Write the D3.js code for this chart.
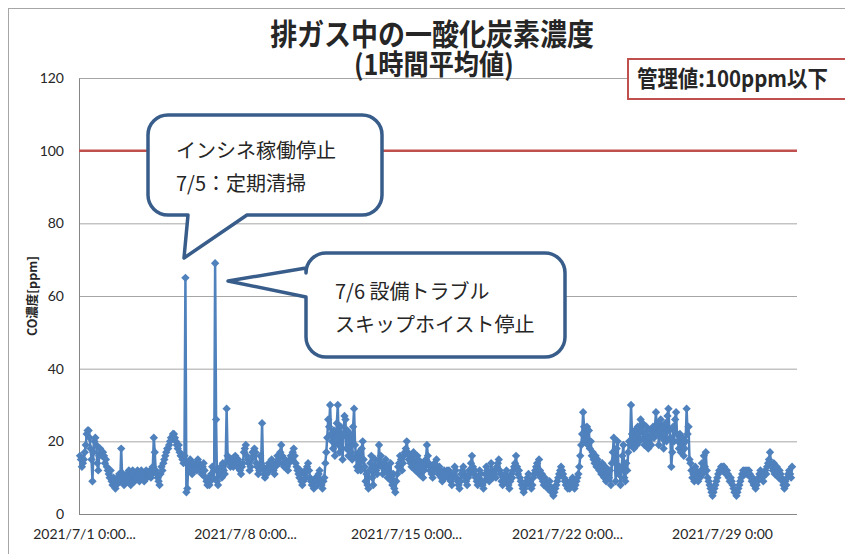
<!DOCTYPE html>
<html>
<head>
<meta charset="utf-8">
<script src="https://cdn.jsdelivr.net/npm/d3@7/dist/d3.min.js"></script>
<style>
  body { margin: 0; background: #fff; }
  svg { display: block; }
  text { fill: #262626; }
</style>
</head>
<body>
<svg id="chart" width="845" height="554"></svg>
<script>
// hourly CO (ppm), one row per day, 24 values each (0:00 .. 23:00)
var coWeek1 = [ // 7/1 - 7/7
  [16,15,13,14,15,17,19,22,23,23,21,18,15,9,17,20,21,19,14,12,16,18,17,16],
  [17,16,14,15,13,12,11,10,12,9,8,10,9,7,8,10,9,11,9,18,10,11,8,9],
  [10,11,9,12,10,8,11,12,10,9,11,10,12,11,9,10,12,11,10,9,11,12,10,11],
  [11,12,10,11,13,21,17,12,11,10,9,8,11,13,12,14,15,16,17,18,18,19,20,21],
  [21,22,22,21,20,19,18,19,17,16,16,15,14,16,65,6,7,14,12,15,13,11,14,12],
  [13,14,12,15,14,13,12,11,13,14,12,10,9,8,10,8,9,11,13,10,12,69,26,9],
  [8,12,11,13,10,14,12,11,14,29,16,15,14,13,15,14,13,15,16,14,13,15,14,12]
];
var coWeek2 = [ // 7/8 - 7/14
  [11,13,14,17,18,19,16,15,14,12,13,15,17,16,18,17,14,13,11,12,16,14,25,13],
  [11,10,12,11,13,14,12,13,15,14,12,11,13,14,16,15,14,17,19,16,14,13,15,14],
  [13,12,14,15,16,15,17,18,16,14,13,12,11,10,12,9,8,9,11,12,10,13,14,12],
  [10,9,8,9,7,8,10,9,8,11,12,9,8,7,9,10,14,17,21,26,24,30,22,20],
  [18,23,16,20,25,30,19,17,24,21,15,22,27,26,18,23,16,20,22,17,15,24,29,19],
  [16,13,12,17,14,12,18,20,15,13,9,11,8,7,12,14,16,10,8,13,15,12,11,13],
  [19,14,16,13,11,14,12,15,13,10,12,11,14,9,8,11,7,6,9,11,13,14,16,15]
];
var coWeek3 = [ // 7/15 - 7/21
  [12,14,16,17,18,20,17,15,16,14,13,15,17,14,12,13,16,15,11,13,12,14,10,12],
  [13,15,19,16,14,12,13,11,10,12,14,13,15,12,11,13,12,10,9,11,12,10,11,12],
  [10,12,11,9,8,10,11,13,12,10,9,8,7,9,11,12,13,11,10,9,8,10,12,11],
  [14,16,13,11,12,10,9,8,10,12,11,9,8,7,9,11,13,12,10,9,11,14,12,10],
  [11,12,10,13,14,15,12,11,9,8,10,9,11,12,10,8,7,9,11,10,12,13,14,16],
  [13,11,12,10,9,8,7,6,7,8,9,10,11,9,8,7,8,10,11,12,13,14,11,15],
  [12,10,11,9,8,10,9,8,7,8,9,7,6,7,5,6,7,8,9,10,11,12,13,12]
];
var coWeek4 = [ // 7/22 - 7/28
  [11,10,9,8,9,7,8,7,9,8,10,9,7,8,9,10,11,13,16,19,22,28,24,20],
  [21,24,19,23,18,20,16,17,15,14,16,13,15,14,12,13,11,14,12,10,13,9,11,12],
  [10,12,8,14,17,21,15,9,18,20,11,13,8,12,16,19,10,9,14,12,17,20,19,30],
  [22,20,18,23,21,19,24,22,20,26,23,25,21,19,22,24,20,18,21,23,19,22,24,21],
  [24,28,22,25,19,23,26,21,24,18,22,25,20,27,29,23,21,13,17,24,20,26,28,22],
  [20,18,22,17,19,21,16,18,20,29,22,24,15,14,12,10,11,9,13,12,10,9,11,10],
  [12,14,11,16,13,17,12,10,9,8,7,6,5,6,7,8,9,10,11,12,12,13,12,13]
];
var coWeek5 = [ // 7/29 - 7/31
  [13,12,11,12,11,10,9,10,9,8,7,6,6,5,6,7,8,9,10,11,12,11,12,11],
  [12,11,12,11,10,9,10,8,9,7,8,9,10,11,12,11,10,9,11,12,11,13,14,15],
  [17,14,13,12,14,11,12,13,11,10,12,11,10,9,8,7,9,8,10,11,12,11,10,13]
];

var limitValue = 100;
var yTicks = [0, 20, 40, 60, 80, 100, 120];
var xTickDates = [new Date(2021,6,1), new Date(2021,6,8), new Date(2021,6,15), new Date(2021,6,22), new Date(2021,6,29)];
var xTickLabels = ["2021/7/1 0:00...", "2021/7/8 0:00...", "2021/7/15 0:00...", "2021/7/22 0:00...", "2021/7/29 0:00"];

var titleLines = ["排ガス中の一酸化炭素濃度", "(1時間平均値)"];
var limitLabel = "管理値:100ppm以下";
var yAxisTitle = "CO濃度[ppm]";
var note1 = ["インシネ稼働停止", "7/5：定期清掃"];
var note2 = ["7/6 設備トラブル", "スキップホイスト停止"];

// build hourly records
var days = coWeek1.concat(coWeek2, coWeek3, coWeek4, coWeek5);
var data = [];
days.forEach(function(row, d) {
  row.forEach(function(v, h) {
    data.push({ t: new Date(2021, 6, 1 + d, h), v: v });
  });
});

var svg = d3.select("#chart");
var plotL = 79, plotR = 797, plotT = 78, plotB = 514;
var jp = "'Noto Sans CJK JP', sans-serif";
var num = "Lato, 'Liberation Sans', sans-serif";

var x = d3.scaleTime()
  .domain([new Date(2021,6,1), new Date(2021,7,1)])
  .range([80, 793]);
var y = d3.scaleLinear().domain([0, 120]).range([plotB, plotT]);

// outer chart frame
svg.append("rect").attr("x", 8.5).attr("y", 8.5).attr("width", 900).attr("height", 600)
  .attr("fill", "none").attr("stroke", "#a6a6a6").attr("stroke-width", 1);

// gridlines
var grid = svg.append("g").attr("transform", "translate(" + plotL + ",0)")
  .call(d3.axisLeft(y).tickValues(yTicks).tickSize(-(plotR - plotL)).tickFormat(""));
grid.select(".domain").remove();
grid.selectAll("line").attr("stroke", "#a6a6a6").attr("stroke-width", 1);

// y axis
var yAxis = svg.append("g").attr("transform", "translate(" + plotL + ",0)")
  .call(d3.axisLeft(y).tickValues(yTicks).tickSize(0).tickPadding(15));
yAxis.select(".domain").attr("stroke", "#868686");
yAxis.selectAll("text").attr("font-family", num).attr("font-size", 14).attr("fill", "#262626");

// x axis
var xAxis = svg.append("g").attr("transform", "translate(0," + plotB + ")")
  .call(d3.axisBottom(x).tickValues(xTickDates).tickSize(0).tickPadding(15)
    .tickFormat(function(d, i) { return xTickLabels[i]; }));
xAxis.select(".domain").attr("d", "M" + plotL + ",0.5H" + plotR).attr("stroke", "#868686");
xAxis.selectAll("text").attr("font-family", num).attr("font-size", 14).attr("fill", "#262626")
  .attr("dx", function(d, i) { return i < 4 ? 4 : -2; });

// limit line
svg.append("line")
  .attr("x1", plotL).attr("x2", plotR)
  .attr("y1", y(limitValue)).attr("y2", y(limitValue))
  .attr("stroke", "#c0504d").attr("stroke-width", 2.5);

// series
var line = d3.line().x(function(d) { return x(d.t); }).y(function(d) { return y(d.v); });
svg.append("path").datum(data).attr("d", line)
  .attr("fill", "none").attr("stroke", "#4f81bd").attr("stroke-width", 2.5)
  .attr("stroke-linejoin", "round");
svg.append("g").selectAll("path").data(data).enter().append("path")
  .attr("d", "M0,-4.2L4.2,0L0,4.2L-4.2,0Z")
  .attr("transform", function(d) { return "translate(" + x(d.t) + "," + y(d.v) + ")"; })
  .attr("fill", "#4f81bd");

// title (two lines in one text)
var title = svg.append("text").attr("transform", "translate(432,0) scale(0.9,1)")
  .attr("text-anchor", "middle").attr("font-family", jp).attr("font-weight", "bold");
title.append("tspan").attr("x", 0).attr("y", 45).attr("font-size", 30).text(titleLines[0]);
title.append("tspan").attr("x", 2).attr("y", 75).attr("font-size", 28).text(titleLines[1]);

svg.append("text")
  .attr("transform", "translate(37,296) rotate(-90)")
  .attr("text-anchor", "middle").attr("font-family", jp).attr("font-weight", "bold")
  .attr("font-size", 12.5).text(yAxisTitle);

// limit label box
svg.append("rect").attr("x", 628).attr("y", 59).attr("width", 230).attr("height", 40)
  .attr("fill", "#fff").attr("stroke", "#c0504d").attr("stroke-width", 2);
svg.append("text").attr("transform", "translate(637,87) scale(0.95,1.05)")
  .attr("font-family", jp).attr("font-weight", "bold").attr("font-size", 21.5).text(limitLabel);

// callouts
function callout(pathD, lines, tx, ty, lh) {
  svg.append("path").attr("d", pathD)
    .attr("fill", "#fff").attr("stroke", "#385d8a").attr("stroke-width", 3.5)
    .attr("stroke-linejoin", "round");
  lines.forEach(function(s, i) {
    svg.append("text").attr("x", tx).attr("y", ty + i * lh)
      .attr("font-family", jp).attr("font-size", 20).text(s);
  });
}
var r = 20;
// box 1: 148..382 x 115..215, pointer down to (184,258)
callout(
  "M" + (148 + r) + ",115H" + (382 - r) + "A" + r + "," + r + " 0 0 1 382," + (115 + r) +
  "V" + (215 - r) + "A" + r + "," + r + " 0 0 1 " + (382 - r) + ",215" +
  "H247L184,258L188,215H" + (148 + r) +
  "A" + r + "," + r + " 0 0 1 148," + (215 - r) + "V" + (115 + r) +
  "A" + r + "," + r + " 0 0 1 " + (148 + r) + ",115Z",
  note1, 176, 158, 33);
// box 2: 306..565 x 253..357, pointer left to (228,281)
callout(
  "M" + (306 + r) + ",253H" + (565 - r) + "A" + r + "," + r + " 0 0 1 565," + (253 + r) +
  "V" + (357 - r) + "A" + r + "," + r + " 0 0 1 " + (565 - r) + ",357" +
  "H" + (306 + r) + "A" + r + "," + r + " 0 0 1 306," + (357 - r) +
  "V297L228,281L306,268V" + (253 + r) +
  "A" + r + "," + r + " 0 0 1 " + (306 + r) + ",253Z",
  note2, 335, 299, 33);
</script>
</body>
</html>
